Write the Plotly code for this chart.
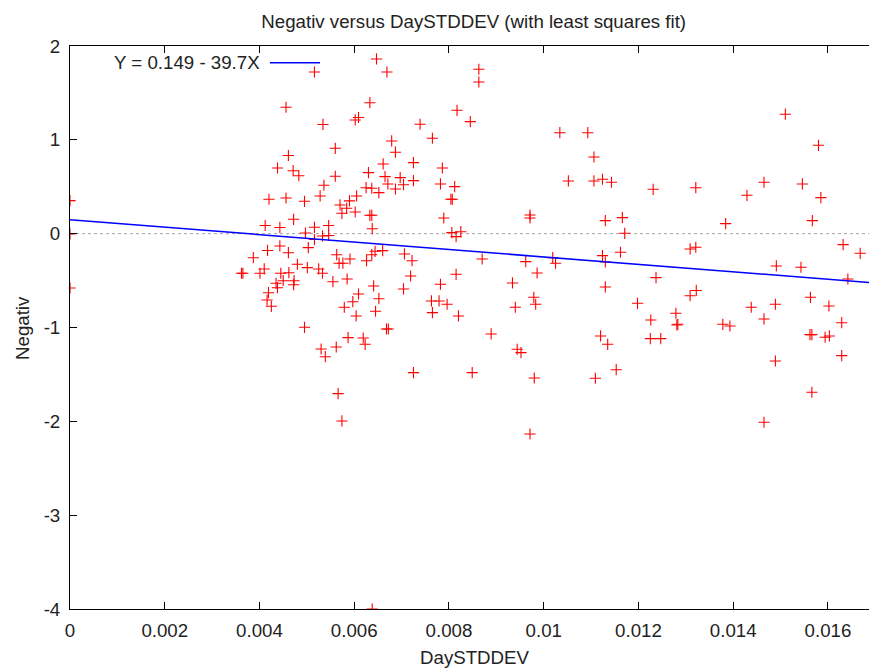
import plotly.graph_objects as go

# Data
day_stddev = [
    0.00647, 0.00669, 0.00516, 0.00863, 0.00863, 0.00456, 0.00633, 0.00817, 0.00534, 0.00602,
    0.00609, 0.00739, 0.00845, 0.00765, 0.00679, 0.00687, 0.00560, 0.00461, 0.00438, 0.00471,
    0.00483, 0.00560, 0.00536, 0.00630, 0.00661, 0.00725, 0.00786, 0.00665, 0.00671, 0.00697,
    0.00704, 0.00687, 0.00725, 0.00782, 0.00812, 0.00804, 0.00807, 0.00789, 0.00806, 0.00825,
    0.00815, 0.00625, 0.00637, 0.00652, 0.00605, 0.00590, 0.00570, 0.00574, 0.00584, 0.00602,
    0.00633, 0.00637, 0.00638, 0.00528, 0.00495, 0.00456, 0.00420, 0.00472, 0.00412, 0.00443,
    0.00516, 0.00497, 0.00516, 0.00546, 0.00533, 0.00546, 0.00443, 0.00417, 0.00503, 0.0,
    0.0,
    0.00387, 0.00461, 0.00362, 0.00365, 0.00401, 0.00410, 0.00445, 0.00462, 0.00435, 0.00438,
    0.00450, 0.00473, 0.00472, 0.00480, 0.00501, 0.00525, 0.00533, 0.00555, 0.00419, 0.00416,
    0.00425, 0.00563, 0.00568, 0.00576, 0.00591, 0.00585, 0.00626, 0.00637, 0.00644, 0.00660,
    0.00706, 0.00722, 0.00719, 0.00704, 0.00641, 0.00652, 0.00645, 0.00609, 0.00597, 0.00579,
    0.00604, 0.00495, 0.00672, 0.00668, 0.00587, 0.00619, 0.00623, 0.00562, 0.00530, 0.00539,
    0.00566, 0.00574, 0.00725, 0.00849, 0.00870, 0.00815, 0.00782, 0.00763, 0.00779, 0.00796,
    0.00765, 0.00820, 0.00889, 0.00934, 0.00940,
    0.01034, 0.01093, 0.01106, 0.01052, 0.01106, 0.01124, 0.01143, 0.01231, 0.01321, 0.01510,
    0.01580, 0.01465, 0.01429, 0.01546, 0.01585, 0.01567, 0.01384, 0.00971, 0.00971, 0.01130,
    0.01166, 0.01171, 0.01162, 0.01124, 0.01130, 0.01019, 0.01025, 0.00962, 0.00986, 0.01237,
    0.01309, 0.01321, 0.01491, 0.01543, 0.01632, 0.01668, 0.01642, 0.01130, 0.01322, 0.01309,
    0.00979, 0.00983, 0.00944, 0.00952, 0.00980, 0.00971,
    0.01198, 0.01226, 0.01279, 0.01281, 0.01283, 0.01120, 0.01135, 0.01109, 0.01153, 0.01225,
    0.01247, 0.01378, 0.01393, 0.01438, 0.01489, 0.01465, 0.01563, 0.01602, 0.01629, 0.01562,
    0.01566, 0.01594, 0.01603, 0.01629, 0.01489, 0.01566, 0.01465, 0.00638, 0.0,
]

negativ = [
    1.862, 1.723, 1.723, 1.752, 1.617, 1.347, 1.396, 1.315, 1.164, 1.212,
    1.238, 1.166, 1.194, 1.017, 0.988, 0.868, 0.910, 0.833, 0.700, 0.671,
    0.618, 0.612, 0.516, 0.650, 0.743, 0.757, 0.700, 0.608, 0.530, 0.597,
    0.522, 0.476, 0.565, 0.530, 0.501, 0.367, 0.367, 0.167, 0.011, 0.021,
    -0.032, 0.490, 0.484, 0.437, 0.402, 0.349, 0.306, 0.217, 0.271, 0.231,
    0.196, 0.196, 0.053, 0.402, 0.345, 0.380, 0.367, 0.153, 0.087, 0.066,
    0.068, 0.007, -0.062, 0.087, -0.025, -0.019, -0.131, -0.179, -0.149, 0.352,
    -0.003,
    -0.256, -0.203, -0.422, -0.422, -0.422, -0.376, -0.422, -0.416, -0.529, -0.576,
    -0.501, -0.501, -0.544, -0.326, -0.362, -0.376, -0.422, -0.512, -0.629, -0.707,
    -0.774, -0.224, -0.315, -0.315, -0.270, -0.483, -0.288, -0.224, -0.188, -0.181,
    -0.216, -0.288, -0.451, -0.589, -0.557, -0.693, -0.827, -0.643, -0.725, -0.784,
    -0.877, -0.998, -1.016, -1.016, -1.108, -1.112, -1.179, -1.208, -1.229, -1.311,
    -1.705, -1.996, -1.481, -1.481, -0.270, -0.433, -0.539, -0.717, -0.717, -0.752,
    -0.842, -0.877, -1.069, -0.525, -0.784,
    1.076, 1.076, 0.817, 0.562, 0.562, 0.580, 0.548, 0.473, 0.490, 1.273,
    0.942, 0.548, 0.409, 0.530, 0.384, 0.139, 0.107, 0.199, 0.167, 0.139,
    0.171, 0.004, -0.198, -0.234, -0.302, -0.256, -0.315, -0.298, -0.419, -0.469,
    -0.163, -0.145, -0.344, -0.358, -0.117, -0.209, -0.483, -0.568, -0.605, -0.661,
    -0.678, -0.752, -1.232, -1.268, -1.538, -2.135,
    -0.742, -0.920, -0.848, -0.973, -0.966, -1.090, -1.179, -1.541, -1.450, -1.119,
    -1.119, -0.966, -0.984, -0.784, -0.752, -0.909, -0.678, -0.771, -0.949, -1.076,
    -1.076, -1.104, -1.090, -1.300, -1.357, -1.690, -2.010, -4.0, -0.579,
]

assert len(day_stddev) == len(negativ)

# Least squares fit as stated on the chart
fit_intercept = 0.149
fit_slope = -39.7
fit_label = "Y = 0.149 - 39.7X"

x_range = [0, 0.016866]
y_range = [-4, 2]
x_tickvals = [0, 0.002, 0.004, 0.006, 0.008, 0.01, 0.012, 0.014, 0.016]
x_ticktext = ["0", "0.002", "0.004", "0.006", "0.008", "0.01", "0.012", "0.014", "0.016"]
y_tickvals = [2, 1, 0, -1, -2, -3, -4]
y_ticktext = ["2", "1", "0", "-1", "-2", "-3", "-4"]

FONT = "Liberation Sans, Arial, Helvetica, sans-serif"
FS = 18.7
TXT = "#222222"
W, H = 869, 669
ML, MR, MT, MB = 70, 0, 46, 60
PW, PH = W - ML - MR, H - MT - MB

fit_x = [x_range[0], x_range[1]]
fit_y = [fit_intercept + fit_slope * v for v in fit_x]

fig = go.Figure()
fig.add_trace(go.Scatter(
    x=day_stddev, y=negativ, mode="markers",
    marker=dict(symbol="cross-thin", size=8, color="#ff0000",
                line=dict(color="#ff0000", width=1.1)),
    showlegend=False, cliponaxis=True, hoverinfo="skip",
))
fig.add_trace(go.Scatter(
    x=fit_x, y=fit_y, mode="lines",
    line=dict(color="#0000ff", width=1.5),
    name=fit_label, showlegend=False, hoverinfo="skip",
))
# invisible trace on the top axis so its ticks/border are drawn
fig.add_trace(go.Scatter(x=[x_range[0]], y=[y_range[0]], xaxis="x2", mode="markers",
                         marker=dict(opacity=0), showlegend=False, hoverinfo="skip"))

fig.update_layout(
    width=W, height=H,
    margin=dict(l=ML, r=MR, t=MT, b=MB, pad=0),
    paper_bgcolor="white", plot_bgcolor="white",
    font=dict(family=FONT, size=FS, color=TXT),
    showlegend=False,
    title=dict(text="Negativ versus DaySTDDEV (with least squares fit)",
               x=473.7 / W, xref="container", xanchor="center",
               y=1 - 21.5 / H, yref="container", yanchor="middle",
               font=dict(family=FONT, size=FS, color=TXT)),
    xaxis=dict(range=x_range, tickvals=x_tickvals, ticktext=x_ticktext,
               showgrid=False, zeroline=False, showline=True, linecolor="black",
               linewidth=1, ticks="inside", ticklen=7,
               tickcolor="black", tickwidth=1, ticklabelstandoff=5,
               tickfont=dict(family=FONT, size=FS, color=TXT)),
    xaxis2=dict(range=x_range, tickvals=x_tickvals, overlaying="x", side="top",
                showticklabels=False, showgrid=False, zeroline=False,
                showline=True, linecolor="black", linewidth=1,
                ticks="inside", ticklen=7, tickcolor="black", tickwidth=1),
    yaxis=dict(range=y_range, tickvals=y_tickvals, ticktext=y_ticktext,
               showgrid=False, zeroline=False, showline=True, linecolor="black",
               linewidth=1, mirror=False, ticks="inside", ticklen=7,
               tickcolor="black", tickwidth=1, ticklabelstandoff=5,
               tickfont=dict(family=FONT, size=FS, color=TXT)),
    shapes=[
        dict(type="line", xref="paper", yref="y", x0=0, x1=1, y0=0, y1=0,
             line=dict(color="#a0a0a0", width=1, dash="dot"), layer="below"),
        dict(type="line", xref="paper", yref="paper",
             x0=(270 - ML) / PW, x1=(320 - ML) / PW,
             y0=1 - (62.7 - MT) / PH, y1=1 - (62.7 - MT) / PH,
             line=dict(color="#0000ff", width=1.5)),
    ],
    annotations=[
        dict(text=fit_label, xref="paper", yref="paper",
             x=(262 - ML) / PW, y=1 - (62.7 - MT) / PH,
             xanchor="right", yanchor="middle", showarrow=False,
             font=dict(family=FONT, size=FS, color=TXT)),
        dict(text="DaySTDDEV", xref="paper", yref="paper",
             x=(475 - ML) / PW, y=-(657 - (H - MB)) / PH,
             xanchor="center", yanchor="middle", showarrow=False,
             font=dict(family=FONT, size=FS, color=TXT)),
        dict(text="Negativ", xref="paper", yref="paper", textangle=-90,
             x=-(ML - 22) / PW, y=1 - (328 - MT) / PH,
             xanchor="center", yanchor="middle", showarrow=False,
             font=dict(family=FONT, size=FS, color=TXT)),
    ],
)

fig.write_html("out.html",
               config={"displayModeBar": False, "staticPlot": True},
               post_script="document.body.style.margin='0px';"
                           "document.body.style.overflow='hidden';")
